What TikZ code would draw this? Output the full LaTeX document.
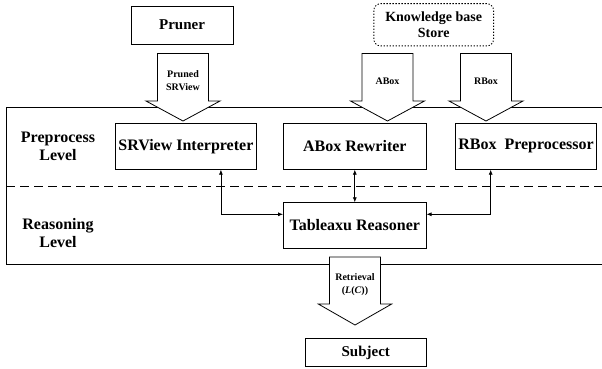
\documentclass[tikz,border=0pt]{standalone}
\usepackage{fontspec}
\setmainfont{Liberation Serif}
\usetikzlibrary{arrows.meta}
\begin{document}
\begin{tikzpicture}[x=1pt,y=-1pt,
  box/.style={draw, line width=0.8pt, inner sep=0pt, align=center, fill=white,
    font=\fontsize{16}{18}\selectfont\bfseries},
  lvl/.style={inner sep=0pt, align=center, font=\fontsize{16}{18}\selectfont\bfseries},
  blk/.style={draw, line width=0.8pt, fill=white, line join=miter},
  small/.style={inner sep=0pt, align=center, font=\fontsize{10}{13}\selectfont\bfseries},
  link/.style={line width=0.7pt, {Latex[length=5pt,width=4pt]}-{Latex[length=5pt,width=4pt]}}]
\useasboundingbox (0,0) rectangle (602,369);
% level frame
\draw[line width=0.8pt] (605,107.3) -- (6,107.3) -- (6,264.3) -- (605,264.3);
\draw[line width=0.8pt, dash pattern=on 9.3pt off 4.7pt] (6,186) -- (602,186);
\node[lvl] (pl) at (58,146) {Preprocess\\Level};
\node[lvl] (rl) at (58,233) {Reasoning\\Level};
% block arrows
\draw[blk] (157.5,53.5) -- (208.5,53.5) -- (208.5,101) -- (220,101) -- (183,121) -- (146,101) -- (157.5,101) -- cycle;
\node[small] (pa) at (183,80.5) {Pruned\\SRView};
\draw[blk] (362,53.5) -- (413,53.5) -- (413,101) -- (424.5,101) -- (387.5,121) -- (350.5,101) -- (362,101) -- cycle;
\node[small] (aa) at (387.5,81.5) {ABox};
\draw[blk] (460.5,53.5) -- (511.5,53.5) -- (511.5,101) -- (523,101) -- (486,121) -- (449,101) -- (460.5,101) -- cycle;
\node[small] (ra) at (486,81.5) {RBox};
\draw[blk] (329.5,257) -- (380.5,257) -- (380.5,304) -- (391.7,304) -- (355,325) -- (318.3,304) -- (329.5,304) -- cycle;
\node[small] (ta) at (355,284.5) {Retrieval\\(\textit{L}(\textit{C}))};
% nodes
\node[box, minimum width=102pt, minimum height=38pt, font=\fontsize{15}{17}\selectfont\bfseries] (pruner) at (182,25) {Pruner};
\node[box, minimum width=119pt, minimum height=41.5pt, rounded corners=7pt, draw=none,
  font=\fontsize{14}{16}\selectfont\bfseries] (kb) at (433.7,24.8) {Knowledge base\\Store};
\draw[line width=0.9pt, dash pattern=on 1.3pt off 1.7pt, rounded corners=7pt] (kb.north west) rectangle (kb.south east);
\node[box, minimum width=141.7pt, minimum height=46pt] (sri) at (185.9,146.3) {SRView Interpreter};
\node[box, minimum width=142.5pt, minimum height=46pt] (rew) at (354.8,146.3) {ABox Rewriter};
\node[box, minimum width=141.4pt, minimum height=46pt] (rbp) at (526,146.3) {RBox\ \ Preprocessor};
\node[box, minimum width=142.7pt, minimum height=45.6pt] (tab) at (354.8,225.5) {Tableaxu Reasoner};
\node[box, minimum width=121.7pt, minimum height=28.4pt, font=\fontsize{15}{17}\selectfont\bfseries] (subj) at (365.8,352.5) {Subject};
% connectors
\draw[link] ([xshift=35pt]sri.south) |- ([yshift=11.2pt]tab.west);
\draw[link] (rew.south) -- (tab.north);
\draw[link] ([xshift=-35.3pt]rbp.south) |- ([yshift=11.2pt]tab.east);
\end{tikzpicture}
\end{document}
